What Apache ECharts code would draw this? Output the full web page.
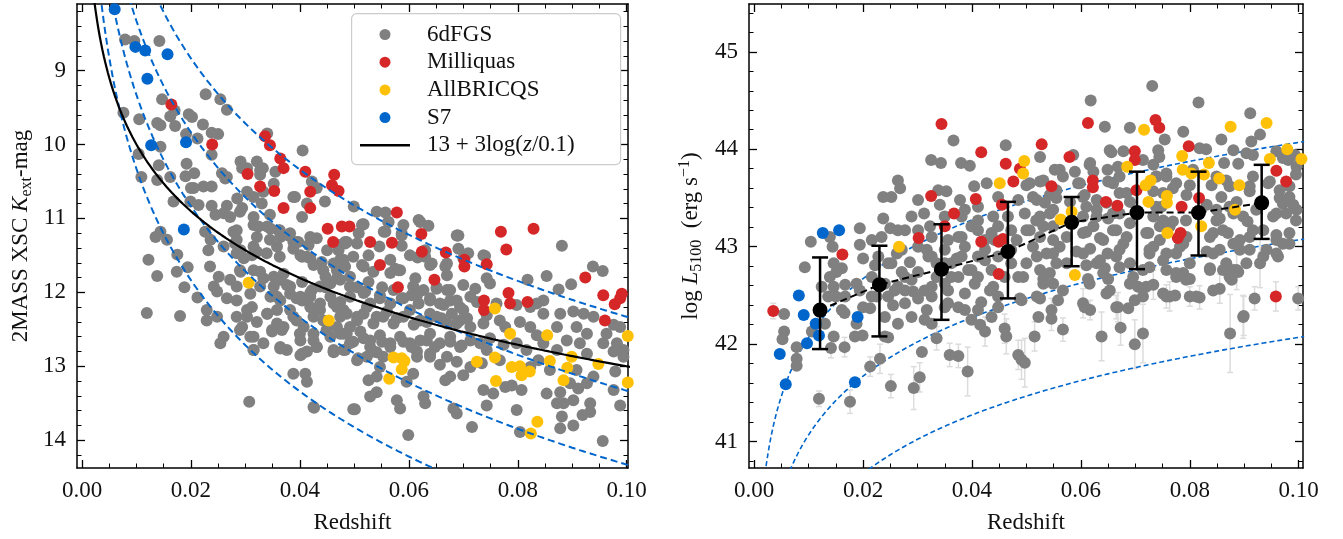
<!DOCTYPE html>
<html>
<head>
<meta charset="utf-8">
<script src="https://cdn.jsdelivr.net/npm/echarts@6/dist/echarts.min.js"></script>
<style>
  html, body { margin: 0; padding: 0; background: #fff; }
  #chart { width: 1343px; height: 539px; }
</style>
</head>
<body>
<div id="chart"></div>
<script>
// tick labels
const zTicks = [0, 0.02, 0.04, 0.06, 0.08, 0.10];
const kTicks = [9, 10, 11, 12, 13, 14];
const lTicks = [41, 42, 43, 44, 45];

// left panel: redshift vs 2MASS K mag
const grayK = [
  [0.0079,8.58],[0.0096,8.60],[0.0142,8.60],[0.0147,9.39],[0.0076,9.57],[0.0105,9.66],[0.0138,9.71],[0.0144,9.74],
  [0.0162,9.62],[0.0170,9.54],[0.0196,9.59],[0.0202,9.63],[0.0222,9.73],[0.0227,9.32],[0.0254,9.39],[0.0266,9.53],
  [0.0171,9.75],[0.0238,9.84],[0.0250,9.86],[0.0191,9.86],[0.0212,9.92],[0.0144,10.03],[0.0104,10.13],[0.0141,10.28],
  [0.0192,10.26],[0.0206,10.39],[0.0238,10.14],[0.0291,10.23],[0.0303,10.32],[0.0321,10.23],[0.0327,10.35],[0.0109,10.44],
  [0.0162,10.44],[0.0190,10.43],[0.0266,10.44],
  [0.0340,9.85],[0.0405,10.08],[0.0257,10.39],[0.0294,10.32],[0.0332,10.32],[0.0327,10.41],[0.0355,10.37],[0.0223,10.57],
  [0.0238,10.57],[0.0205,10.59],[0.0263,10.46],[0.0330,10.80],[0.0285,10.73],[0.0315,10.71],[0.0391,10.71],[0.0422,10.50],
  [0.0431,10.59],[0.0446,10.77],[0.0214,10.82],[0.0238,10.83],[0.0266,10.83],[0.0294,10.86],[0.0345,10.95],[0.0260,10.93],
  [0.0272,10.98],[0.0245,10.95],[0.0499,10.84],[0.0517,11.08],[0.0541,10.91],[0.0562,11.05],[0.0590,11.09],[0.0621,11.05],
  [0.0636,11.10],[0.0554,11.18],[0.0587,11.23],[0.0688,11.23],[0.0737,11.50],[0.0226,11.18],[0.0236,11.29],[0.0278,11.18],
  [0.0284,11.29],[0.0315,11.09],[0.0321,11.25],[0.0340,11.11],[0.0361,11.16],[0.0382,11.20],[0.0394,11.32],[0.0358,11.38],
  [0.0321,11.45],[0.0291,11.43],[0.0260,11.38],[0.0345,11.29],[0.0401,11.50],[0.0431,11.27],[0.0450,11.43],[0.0471,11.36],
  [0.0486,11.32],[0.0505,11.34],[0.0546,11.38],[0.0526,11.50],
  [0.0303,10.64],[0.0333,10.64],[0.0352,10.53],[0.0388,10.71],[0.0413,10.80],[0.0364,11.25],[0.0388,11.32],[0.0416,11.36],
  [0.0413,11.52],[0.0232,11.43],[0.0312,11.50],
  [0.0138,10.48],[0.0168,10.77],[0.0199,10.77],[0.0200,10.59],[0.0144,11.18],[0.0135,11.25],[0.0156,11.29],[0.0122,11.56],
  [0.0138,11.78],[0.0119,12.28],[0.0180,12.32],[0.0175,11.49],[0.0194,11.66],[0.0188,11.93],[0.0212,12.07],[0.0284,11.47],
  [0.0297,11.54],[0.0425,11.63],[0.0443,11.70],[0.0462,11.61],[0.0480,11.56],[0.0498,11.52],[0.0492,11.79],[0.0474,11.83],
  [0.0456,11.88],[0.0437,11.92],[0.0419,12.01],[0.0401,12.06],[0.0382,11.92],[0.0364,11.83],[0.0352,11.92],[0.0333,11.81],
  [0.0315,11.70],[0.0291,11.72],[0.0272,11.83],[0.0251,11.79],[0.0235,11.65],[0.0242,11.92],[0.0229,12.24],[0.0248,11.99],
  [0.0266,12.08],[0.0284,11.92],[0.0327,11.92],[0.0346,12.06],[0.0364,12.11],[0.0394,12.08],[0.0419,12.20],[0.0437,12.24],
  [0.0468,12.20],[0.0486,12.29],[0.0505,12.33],[0.0492,12.47],[0.0474,12.56],[0.0449,12.51],[0.0425,12.33],[0.0407,12.47],
  [0.0388,12.33],[0.0382,12.24],[0.0358,12.42],[0.0340,12.29],[0.0321,12.40],[0.0303,12.33],[0.0294,12.47],[0.0312,12.20],
  [0.0284,12.33],[0.0248,12.33],[0.0229,12.38],[0.0260,12.60],[0.0254,12.69],[0.0315,12.60],[0.0333,12.69],[0.0349,12.53],
  [0.0367,12.51],[0.0364,12.76],[0.0376,12.78],[0.0401,12.65],[0.0413,12.80],[0.0431,12.74],[0.0401,12.85],[0.0425,12.56],
  [0.0462,12.80],[0.0480,12.78],[0.0505,12.92],[0.0498,12.67],[0.0315,12.78],[0.0388,13.10],[0.0410,13.10],[0.0413,13.21],
  [0.0307,13.48],[0.0426,13.56],[0.0498,13.58],[0.0174,11.72],
  [0.0468,11.70],[0.0483,11.65],[0.0517,11.65],[0.0535,11.72],[0.0566,11.74],[0.0584,11.70],[0.0608,11.92],[0.0612,11.81],
  [0.0651,11.95],[0.0670,11.97],[0.0700,11.90],[0.0722,11.95],[0.0492,11.92],[0.0517,12.01],[0.0547,12.04],[0.0572,11.97],
  [0.0590,12.08],[0.0615,12.04],[0.0639,12.08],[0.0657,12.15],[0.0676,12.11],[0.0694,12.20],[0.0713,12.06],[0.0725,12.13],
  [0.0761,12.15],[0.0798,12.17],[0.0823,12.20],[0.0847,12.29],[0.0878,12.29],[0.0902,12.26],[0.0921,12.29],[0.0939,12.33],
  [0.0976,12.44],[0.0988,12.47],[0.0462,12.15],[0.0480,12.24],[0.0523,12.20],[0.0541,12.33],[0.0560,12.26],[0.0578,12.35],
  [0.0602,12.24],[0.0621,12.38],[0.0639,12.29],[0.0660,12.35],[0.0679,12.29],[0.0688,12.42],[0.0707,12.35],[0.0713,12.47],
  [0.0737,12.42],[0.0743,12.31],[0.0767,12.38],[0.0777,12.47],[0.0804,12.40],[0.0823,12.47],[0.0835,12.58],[0.0872,12.47],
  [0.0890,12.65],[0.0908,12.47],[0.0927,12.56],[0.0963,12.56],[0.0982,12.69],[0.0994,12.78],[0.0468,12.47],[0.0486,12.56],
  [0.0511,12.53],[0.0529,12.65],[0.0547,12.58],[0.0566,12.69],[0.0584,12.60],[0.0602,12.69],[0.0621,12.65],[0.0639,12.56],
  [0.0657,12.69],[0.0676,12.60],[0.0694,12.74],[0.0713,12.65],[0.0731,12.69],[0.0749,12.62],[0.0743,12.78],[0.0774,12.71],
  [0.0798,12.69],[0.0816,12.78],[0.0847,12.69],[0.0872,12.78],[0.0914,12.69],[0.0927,12.83],[0.0957,12.69],[0.0976,12.80],
  [0.0462,12.78],[0.0507,12.89],[0.0535,12.80],[0.0553,12.87],[0.0615,12.80],[0.0639,12.87],[0.0657,12.98],[0.0688,12.94],
  [0.0713,13.01],[0.0734,12.96],[0.0767,12.92],[0.0823,13.01],[0.0838,12.92],[0.0859,13.05],[0.0908,13.05],[0.0939,13.14],
  [0.0979,13.07],[0.0994,12.87],[0.0526,13.19],[0.0541,13.14],[0.0547,13.01],[0.0596,13.21],[0.0608,13.10],[0.0667,13.19],
  [0.0676,13.14],[0.0700,13.12],[0.0737,13.32],[0.0755,13.37],[0.0777,13.28],[0.0789,13.26],[0.0807,13.32],[0.0853,13.37],
  [0.0878,13.35],[0.0896,13.23],[0.0911,13.30],[0.0927,13.23],[0.0976,13.32],[0.0988,13.53],[0.0529,13.41],[0.0541,13.35],
  [0.0578,13.46],[0.0584,13.57],[0.0627,13.41],[0.0630,13.50],[0.0682,13.57],[0.0688,13.64],[0.0743,13.53],[0.0798,13.59],
  [0.0872,13.50],[0.0884,13.50],[0.0902,13.46],[0.0881,13.68],[0.0902,13.80],[0.0878,13.84],[0.0933,13.50],[0.0933,13.62],
  [0.0501,13.58],[0.0599,13.93],[0.0716,13.82],[0.0804,13.89],[0.0956,14.01],[0.0425,13.55],[0.0919,13.66],
  [0.0557,10.92],[0.0563,11.05],[0.0515,11.08],[0.0483,11.32],[0.0587,11.20],[0.0587,11.37],[0.0616,11.53],[0.0630,11.43],
  [0.0642,11.61],[0.0667,11.65],[0.0689,11.23],[0.0691,11.41],[0.0740,11.51],[0.0743,11.81],[0.0749,11.88],[0.0709,11.47],
  [0.0818,11.83],[0.0853,11.78],[0.0881,11.37],[0.0898,11.89],[0.0938,11.65],[0.0956,11.71],[0.0875,11.96],[0.0847,12.11],
  [0.0835,12.15],
  [0.0290,10.91],[0.0315,10.98],[0.0404,10.98],[0.0284,11.16],[0.0324,11.11],[0.0346,11.14],[0.0363,11.16],[0.0379,11.23],
  [0.0397,11.32],[0.0419,11.25],[0.0514,11.09],[0.0483,11.34],[0.0508,11.20],[0.0557,11.18],[0.0618,11.02],[0.0691,11.23],
  [0.0602,11.50],[0.0281,11.34],[0.0315,11.38],[0.0339,11.47],[0.0363,11.52],[0.0388,11.41],[0.0404,11.52],[0.0419,11.54],
  [0.0440,11.59],[0.0471,11.43],[0.0474,11.56],[0.0514,11.63],[0.0566,11.56],[0.0575,11.68],[0.0630,11.52],[0.0639,11.63],
  [0.0670,11.61],[0.0700,11.54],[0.0290,11.70],[0.0327,11.72],[0.0352,11.79],[0.0370,11.75],[0.0376,11.90],[0.0404,11.86],
  [0.0422,11.97],[0.0447,11.79],[0.0447,11.93],[0.0468,11.81],[0.0505,11.93],[0.0526,11.86],[0.0551,11.93],[0.0581,11.70],
  [0.0609,11.93],[0.0627,11.97],[0.0651,11.93],[0.0676,11.97],[0.0670,11.77],[0.0284,12.11],[0.0309,12.02],[0.0358,12.06],
  [0.0382,12.02],[0.0404,12.11],[0.0419,12.06],[0.0437,12.15],[0.0456,12.06],[0.0474,12.13],[0.0492,12.06],[0.0520,11.99],
  [0.0529,12.15],[0.0547,12.08],[0.0566,12.15],[0.0587,12.08],[0.0605,12.04],[0.0618,12.15],[0.0639,12.11],[0.0664,12.17],
  [0.0688,12.11],[0.0700,12.24],[0.0303,12.24],[0.0340,12.29],[0.0358,12.24],[0.0394,12.38],[0.0425,12.24],[0.0443,12.38],
  [0.0474,12.33],[0.0505,12.38],[0.0517,12.29],[0.0535,12.42],[0.0553,12.33],[0.0572,12.42],[0.0590,12.33],[0.0609,12.44],
  [0.0633,12.40],[0.0651,12.33],[0.0670,12.42],[0.0694,12.38],[0.0290,12.51],[0.0309,12.60],[0.0349,12.51],[0.0370,12.47],
  [0.0400,12.56],[0.0425,12.65],[0.0456,12.60],[0.0480,12.56],[0.0492,12.69],[0.0517,12.62],[0.0529,12.74],[0.0551,12.67],
  [0.0566,12.74],[0.0590,12.67],[0.0605,12.74],[0.0633,12.65],[0.0648,12.74],[0.0676,12.67],[0.0697,12.72],[0.0315,12.78],
  [0.0364,12.74],[0.0404,12.83],[0.0431,12.74],[0.0462,12.81],[0.0483,12.78],[0.0523,12.87],[0.0541,12.81],[0.0615,12.87],
  [0.0639,12.83],[0.0670,12.87]
];
const redK = [
  [0.0164,9.46],[0.0239,10.00],[0.0304,10.40],[0.0336,9.89],[0.0345,10.01],[0.0364,10.19],[0.0370,10.32],[0.0410,10.37],
  [0.0327,10.57],[0.0353,10.63],[0.0419,10.64],[0.0370,10.86],[0.0419,10.86],[0.0463,10.41],[0.0459,10.55],[0.0471,10.63],
  [0.0578,10.92],[0.0451,11.14],[0.0477,11.11],[0.0491,11.11],[0.0461,11.32],[0.0529,11.32],[0.0569,11.33],[0.0623,11.21],
  [0.0624,11.45],[0.0668,11.46],[0.0702,11.56],[0.0547,11.63],[0.0580,11.93],[0.0647,11.83],[0.0702,11.65],[0.0743,11.62],
  [0.0769,11.18],[0.0779,11.42],[0.0829,11.14],[0.0783,12.01],[0.0786,12.15],[0.0738,12.11],[0.0738,12.24],[0.0818,12.13],
  [0.0924,11.80],[0.0957,12.04],[0.0960,12.38],[0.0978,12.16],[0.0988,12.08],[0.0991,12.02]
];
const yellowK = [
  [0.0306,11.87],[0.0453,12.38],[0.0758,12.22],[0.0786,12.56],[0.0854,12.58],[0.0572,12.88],[0.0587,12.89],[0.0592,12.93],
  [0.0587,13.04],[0.0564,13.17],[0.0725,12.94],[0.0758,12.88],[0.0760,13.20],[0.0789,13.01],[0.0804,13.00],[0.0807,13.12],
  [0.0822,13.07],[0.0859,12.93],[0.0899,12.87],[0.0891,13.02],[0.0884,13.19],[0.0948,12.97],[0.1002,12.59],[0.1002,13.22],
  [0.0836,13.75],[0.0824,13.91]
];
const blueK = [
  [0.0060,8.17],[0.0098,8.68],[0.0116,8.73],[0.0157,8.78],[0.0120,9.11],[0.0127,10.01],[0.0191,9.97],[0.0187,11.15]
];
// model curves: K = c + 5 log(z/0.1); fit: 13 + 3 log(z/0.1)
const kCurveOffsets = [12.33, 13.33, 14.33, 15.33];
const fitZero = 13, fitSlope = 3;

// right panel: redshift vs log L5100
const grayL = [
  [0.0055,42.31],[0.0055,42.13],[0.0052,42.05],[0.0078,41.97],[0.0078,41.85],[0.0078,41.78],[0.0119,41.44],[0.0104,43.05],
  [0.0093,42.79],[0.0139,43.10],[0.0144,43.00],[0.0146,42.83],[0.0139,42.69],[0.0146,42.59],[0.0136,42.49],[0.0150,42.49],
  [0.0161,42.78],[0.0167,42.61],[0.0161,42.35],[0.0166,42.32],[0.0146,42.08],[0.0141,41.96],[0.0166,41.97],[0.0106,42.13],
  [0.0130,42.21],[0.0194,43.19],[0.0194,43.02],[0.0200,42.88],[0.0188,42.62],[0.0194,42.55],[0.0200,42.38],[0.0213,42.37],
  [0.0188,42.21],[0.0185,42.08],[0.0199,42.09],[0.0213,41.77],[0.0176,41.41],[0.0231,41.85],[0.0251,41.57],[0.0293,41.55],
  [0.0237,43.51],[0.0237,43.29],[0.0234,43.10],[0.0250,43.19],[0.0264,43.68],[0.0268,43.60],[0.0262,42.93],[0.0252,42.83],
  [0.0289,43.31],[0.0312,43.34],[0.0286,42.84],[0.0277,42.69],[0.0264,42.59],[0.0292,42.54],[0.0301,42.47],[0.0246,42.49],
  [0.0271,42.74],[0.0240,42.28],[0.0240,42.08],[0.0246,42.07],[0.0317,42.35],[0.0313,42.25],[0.0335,42.83],[0.0335,42.69],
  [0.0323,43.21],[0.0326,43.10],[0.0341,43.43],[0.0353,43.57],[0.0366,44.09],[0.0325,43.89],[0.0343,43.86],[0.0380,43.86],
  [0.0396,43.83],[0.0404,43.62],[0.0378,43.48],[0.0387,43.38],[0.0399,43.21],[0.0387,43.00],[0.0372,42.88],[0.0411,42.90],
  [0.0399,42.76],[0.0362,42.69],[0.0356,42.55],[0.0375,42.38],[0.0417,42.43],[0.0405,42.62],[0.0433,42.55],[0.0448,42.49],
  [0.0399,42.25],[0.0415,42.20],[0.0424,42.13],[0.0335,42.06],[0.0308,41.92],[0.0359,41.89],[0.0375,41.88],[0.0392,41.72],
  [0.0427,43.65],[0.0462,44.04],[0.0439,43.31],[0.0424,43.07],[0.0448,43.21],[0.0439,42.59],[0.0460,42.16],[0.0463,42.08],
  [0.0488,42.47],[0.0485,41.89],[0.0491,41.84],[0.0216,43.07],[0.0222,42.81],[0.0301,43.00],[0.0317,42.97],[0.0356,43.07],
  [0.0375,43.10],[0.0411,43.17],[0.0436,43.14],[0.0424,42.86],[0.0472,42.83],[0.0482,43.07],[0.0375,42.69],[0.0255,42.40],
  [0.0277,42.42],[0.0225,42.49],[0.0326,42.59],[0.0350,42.38],[0.0387,42.52],[0.0252,43.51],[0.0301,43.48],[0.0338,43.58],
  [0.0381,43.31],[0.0411,43.41],[0.0448,43.51],[0.0466,43.31],[0.0485,43.48],[0.0472,43.17],[0.0350,42.97],[0.0277,43.17],
  [0.0320,42.90],[0.0304,41.66],
  [0.0124,42.59],[0.0151,42.74],[0.0167,42.49],[0.0216,42.69],[0.0240,42.62],[0.0258,42.55],[0.0277,42.55],[0.0289,42.66],
  [0.0301,42.74],[0.0313,42.55],[0.0326,42.49],[0.0350,42.62],[0.0362,42.83],[0.0381,42.90],[0.0393,42.76],[0.0411,42.69],
  [0.0424,42.97],[0.0436,42.76],[0.0448,42.90],[0.0460,42.69],[0.0472,42.97],[0.0485,42.69],[0.0356,42.42],[0.0387,42.35],
  [0.0411,42.35],[0.0436,42.28],[0.0448,42.38],[0.0326,42.21],[0.0289,42.28],[0.0264,42.21],[0.0216,42.49],[0.0246,42.83],
  [0.0271,42.97],[0.0326,42.90],[0.0350,42.83],[0.0381,43.10],[0.0411,43.27],[0.0442,43.07],[0.0350,43.31],[0.0301,43.17],
  [0.0264,43.17],[0.0228,42.90],
  [0.0731,44.65],[0.0618,44.50],[0.0816,44.48],[0.0911,44.37],[0.0644,44.23],[0.0690,44.22],[0.0754,44.10],[0.0788,44.18],
  [0.0858,44.10],[0.0913,44.08],[0.0929,44.15],[0.0656,43.97],[0.0678,43.98],[0.0742,43.99],[0.0818,44.01],[0.0830,44.00],
  [0.0880,43.99],[0.0916,43.94],[0.0959,43.98],[0.0993,43.94],[0.0552,43.79],[0.0589,43.77],[0.0617,43.86],[0.0649,43.79],
  [0.0714,43.89],[0.0733,43.84],[0.0757,43.75],[0.0806,43.79],[0.0889,43.85],[0.0981,43.89],[0.0995,43.74],[0.0983,43.62],
  [0.0500,43.63],[0.0525,43.67],[0.0567,43.72],[0.0598,43.65],[0.0650,43.67],[0.0671,43.72],[0.0739,43.72],[0.0769,43.60],
  [0.0800,43.63],[0.0840,43.63],[0.0867,43.68],[0.0916,43.72],[0.0944,43.65],[0.0512,43.51],[0.0534,43.45],[0.0555,43.50],
  [0.0580,43.46],[0.0607,43.53],[0.0629,43.48],[0.0671,43.55],[0.0690,43.46],[0.0733,43.57],[0.0748,43.41],[0.0794,43.53],
  [0.0831,43.43],[0.0858,43.51],[0.0886,43.46],[0.0910,43.57],[0.0965,43.50],[0.0990,43.43],[0.0497,43.34],[0.0518,43.27],
  [0.0543,43.34],[0.0604,43.31],[0.0629,43.38],[0.0650,43.29],[0.0671,43.34],[0.0733,43.31],[0.0769,43.26],[0.0855,43.29],
  [0.0880,43.34],[0.0906,43.26],[0.0953,43.31],[0.0977,43.34],[0.0995,43.27],[0.0500,43.17],[0.0525,43.10],[0.0549,43.21],
  [0.0574,43.10],[0.0610,43.15],[0.0635,43.09],[0.0659,43.17],[0.0684,43.10],[0.0724,43.14],[0.0745,43.21],[0.0745,43.07],
  [0.0794,43.10],[0.0843,43.14],[0.0870,43.14],[0.0892,43.07],[0.0916,43.17],[0.0959,43.12],[0.0983,43.03],[0.0512,43.00],
  [0.0537,42.93],[0.0561,43.00],[0.0592,42.95],[0.0617,42.98],[0.0649,42.93],[0.0671,42.97],[0.0726,42.97],[0.0757,42.93],
  [0.0782,43.00],[0.0831,42.95],[0.0855,42.97],[0.0910,42.97],[0.0941,42.97],[0.0971,43.03],[0.0500,42.83],[0.0525,42.76],
  [0.0555,42.83],[0.0610,42.81],[0.0635,42.86],[0.0671,42.79],[0.0696,42.69],[0.0726,42.79],[0.0757,42.76],[0.0775,42.69],
  [0.0837,42.78],[0.0861,42.76],[0.0886,42.76],[0.0904,42.83],[0.0929,42.83],[0.0962,42.90],[0.0494,42.69],[0.0531,42.67],
  [0.0549,42.62],[0.0613,42.67],[0.0644,42.78],[0.0650,42.67],[0.0705,42.59],[0.0733,42.61],[0.0788,42.73],[0.0800,42.67],
  [0.0855,42.57],[0.0877,42.66],[0.0889,42.74],[0.0491,42.45],[0.0525,42.47],[0.0558,42.45],[0.0607,42.38],[0.0617,42.35],
  [0.0653,42.55],[0.0668,42.38],[0.0687,42.37],[0.0699,42.45],[0.0757,42.49],[0.0773,42.50],[0.0800,42.49],[0.0818,42.48],
  [0.0919,42.47],[0.0899,42.29],[0.0999,42.47],[0.0546,42.35],[0.0546,42.26],[0.0522,42.28],[0.0567,42.15],[0.0638,42.08],
  [0.0673,42.17],[0.0699,42.00],[0.0714,42.11],[0.0874,42.11],[0.0515,42.08],[0.0497,41.81],
  [0.0525,43.92],[0.0561,43.79],[0.0586,43.94],[0.0616,43.84],[0.0653,43.99],[0.0668,43.82],[0.0744,43.92],[0.0757,43.72],
  [0.0863,43.86],[0.0904,43.96],[0.0971,43.91],[0.0996,43.82],[0.0506,43.65],[0.0531,43.68],[0.0555,43.58],[0.0595,43.65],
  [0.0623,43.77],[0.0604,43.51],[0.0659,43.65],[0.0684,43.55],[0.0738,43.72],[0.0751,43.55],[0.0775,43.65],[0.0849,43.72],
  [0.0873,43.62],[0.0910,43.62],[0.0947,43.67],[0.0965,43.58],[0.0983,43.51],[0.0519,43.48],[0.0543,43.53],[0.0525,43.31],
  [0.0549,43.38],[0.0610,43.41],[0.0629,43.31],[0.0647,43.45],[0.0659,43.34],[0.0690,43.24],[0.0738,43.41],[0.0751,43.27],
  [0.0793,43.27],[0.0849,43.38],[0.0849,43.27],[0.0873,43.41],[0.0898,43.31],[0.0922,43.38],[0.0959,43.34],[0.0971,43.44],
  [0.0996,43.38],[0.0506,43.17],[0.0531,43.21],[0.0549,43.07],[0.0604,43.14],[0.0623,43.21],[0.0641,43.07],[0.0665,43.17],
  [0.0678,43.03],[0.0720,43.14],[0.0733,43.00],[0.0763,43.21],[0.0788,43.03],[0.0837,43.10],[0.0861,43.17],[0.0880,43.03],
  [0.0910,43.10],[0.0935,43.17],[0.0959,43.07],[0.0983,43.14],[0.0519,42.90],[0.0549,42.93],[0.0574,42.83],[0.0604,42.93],
  [0.0629,42.83],[0.0665,42.90],[0.0690,42.83],[0.0726,42.93],[0.0751,42.86],[0.0775,42.93],[0.0800,42.83],[0.0843,42.93],
  [0.0867,42.83],[0.0892,42.97],[0.0935,42.90],[0.0959,42.93],[0.0543,42.73],[0.0641,42.73],[0.0714,42.76],[0.0775,42.73],
  [0.0837,42.76],[0.0880,42.76],[0.0531,42.62],[0.0567,42.55],[0.0616,42.62],[0.0647,42.52],[0.0690,42.62],[0.0720,42.59],
  [0.0751,42.52],[0.0793,42.66],[0.0812,42.49],[0.0843,42.55],[0.0873,42.69],[0.0519,42.49],[0.0604,42.42],[0.0665,42.38],
  [0.0714,42.49],[0.0763,42.49],[0.0898,42.28]
];
const redL = [
  [0.0035,42.34],[0.0162,42.92],[0.0302,43.09],[0.0325,43.52],[0.0344,44.26],[0.0417,43.97],[0.0367,43.34],[0.0350,43.21],
  [0.0407,43.49],[0.0417,43.05],[0.0462,43.85],[0.0476,43.67],[0.0488,43.80],[0.0455,43.43],[0.0449,43.05],[0.0457,43.08],
  [0.0449,42.72],[0.0528,44.05],[0.0579,43.92],[0.0546,43.62],[0.0613,44.27],[0.0622,43.68],[0.0622,43.61],[0.0646,43.46],
  [0.0667,43.42],[0.0699,43.98],[0.0699,43.89],[0.0702,43.58],[0.0737,44.30],[0.0744,44.22],[0.0798,44.03],[0.0785,43.41],
  [0.0817,43.50],[0.0778,43.09],[0.0783,43.14],[0.0959,43.78],[0.0977,43.67],[0.0958,42.49]
];
const yellowL = [
  [0.0266,43.00],[0.0451,43.65],[0.0496,43.88],[0.0494,43.75],[0.0716,44.20],[0.0685,43.82],[0.0563,43.28],[0.0583,43.36],
  [0.0589,42.71],[0.0728,43.68],[0.0719,43.63],[0.0724,43.46],[0.0758,43.52],[0.0758,43.45],[0.0759,43.14],[0.0786,43.93],
  [0.0787,43.79],[0.0803,43.75],[0.0826,43.74],[0.0835,43.86],[0.0821,43.21],[0.0854,43.70],[0.0875,44.23],[0.0891,43.63],
  [0.0883,43.38],[0.0941,44.27],[0.0947,43.90],[0.0979,44.00],[0.1005,43.90]
];
const blueL = [
  [0.0126,43.14],[0.0156,43.17],[0.0082,42.50],[0.0091,42.30],[0.0113,42.21],[0.0119,42.09],[0.0097,42.01],[0.0047,41.90],
  [0.0058,41.59],[0.0190,42.28],[0.0185,41.61]
];
// individual measurement errors (z, logL, half-length)
const errL = [
  [0.0078,41.85,0.10],[0.0119,41.44,0.08],[0.0176,41.41,0.12],[0.0213,41.77,0.10],[0.0231,41.85,0.15],[0.0251,41.57,0.12],
  [0.0293,41.55,0.22],[0.0304,41.66,0.15],[0.0359,41.89,0.12],[0.0375,41.88,0.12],[0.0392,41.72,0.25],[0.0460,42.16,0.15],
  [0.0485,41.89,0.15],[0.0491,41.84,0.20],[0.0497,41.81,0.25],[0.0515,42.08,0.15],[0.0546,42.26,0.12],[0.0567,42.15,0.12],
  [0.0638,42.08,0.25],[0.0673,42.17,0.18],[0.0699,42.00,0.25],[0.0714,42.11,0.30],[0.0757,42.49,0.12],[0.0800,42.49,0.10],
  [0.0818,42.48,0.12],[0.0874,42.11,0.40],[0.0899,42.29,0.20],[0.0919,42.47,0.12],[0.0855,42.57,0.15],[0.0999,42.47,0.12],
  [0.0546,42.35,0.12],[0.0617,42.35,0.10],[0.0166,41.97,0.10],[0.0141,41.96,0.10],[0.0335,42.06,0.12],[0.0424,42.13,0.15],
  [0.0463,42.08,0.18],[0.0733,42.61,0.15],[0.0886,42.76,0.20],[0.0929,42.83,0.25],[0.0668,42.38,0.15],[0.0958,42.49,0.15],
  [0.0035,42.34,0.08],[0.0604,42.42,0.15],[0.0665,42.38,0.12],[0.0763,42.49,0.15],[0.0898,42.28,0.22]
];
// binned means
const binZ  = [0.0121, 0.0230, 0.0344, 0.0466, 0.0583, 0.0703, 0.0816, 0.0932];
const binL  = [42.35, 42.61, 42.77, 42.95, 43.25, 43.35, 43.35, 43.45];
const binLo = [41.95, 42.08, 42.25, 42.47, 42.80, 42.77, 42.91, 43.08];
const binHi = [42.89, 43.01, 43.23, 43.46, 43.51, 43.77, 43.77, 43.84];
// flux limits: logL = c + 2 log(z/0.1)
const lCurveOffsets = [44.07, 43.07, 42.07];

const FONT = "'Liberation Serif', 'DejaVu Serif', serif";
const FS = 23;
const BLUE = '#0066cc', RED = '#d62728', YELLOW = '#ffc107', GRAY = '#808080';

const zGrid = [];
for (let i = 1; i <= 404; i++) zGrid.push(i * 0.00025);
const curve = (c, s) => zGrid.map(z => [z, c + s * Math.log10(z / 0.1)]);

function minorList(lo, hi, step, majors) {
  const out = [];
  for (let v = lo; v <= hi + 1e-9; v += step) {
    const r = Math.round(v / step) * step;
    if (!majors.some(m => Math.abs(m - r) < 1e-9)) out.push(+r.toFixed(4));
  }
  return out;
}

function axes(dim, grid, min, max, majors, minors, o) {
  const sides = dim === 'x' ? ['bottom', 'top'] : ['left', 'right'];
  const list = [];
  sides.forEach((p, i) => {
    list.push({
      type: 'value', gridIndex: grid, position: p, min: min, max: max, inverse: !!o.inverse,
      splitLine: { show: false },
      axisLine: { show: true, onZero: false, lineStyle: { color: '#000', width: 1.5 } },
      axisTick: { show: true, inside: true, length: 8, lineStyle: { color: '#000', width: 1.3 }, customValues: majors },
      axisLabel: i === 0 ? { show: true, customValues: majors, formatter: o.fmt, margin: o.margin,
        color: '#111', fontFamily: FONT, fontSize: FS } : { show: false },
      name: i === 0 ? o.name : '',
      nameLocation: 'middle', nameGap: o.gap, nameRotate: dim === 'y' ? 90 : 0,
      nameTextStyle: { color: '#111', fontFamily: FONT, fontSize: FS, lineHeight: 28, rich: o.rich || {} }
    });
    list.push({
      type: 'value', gridIndex: grid, position: p, min: min, max: max, inverse: !!o.inverse,
      splitLine: { show: false }, axisLine: { show: false, onZero: false }, axisLabel: { show: false },
      axisTick: { show: true, inside: true, length: 4.5, lineStyle: { color: '#000', width: 1 }, customValues: minors }
    });
  });
  return list;
}

const rich = {
  i: { fontStyle: 'italic', fontFamily: FONT, fontSize: FS, color: '#111', lineHeight: 28 },
  sub: { fontFamily: FONT, fontSize: 16, color: '#111', verticalAlign: 'bottom', lineHeight: 28 },
  sup: { fontFamily: FONT, fontSize: 16, color: '#111', verticalAlign: 'top', lineHeight: 28 }
};

const zMinor = minorList(0, 0.1, 0.005, zTicks);
const kMinor = minorList(8.2, 14.2, 0.2, kTicks);
const lMinor = minorList(40.8, 45.4, 0.2, lTicks);
const zFmt = v => v.toFixed(2);
const iFmt = v => String(Math.round(v));

const xAxis = [].concat(
  axes('x', 0, -0.00092, 0.10024, zTicks, zMinor, { fmt: zFmt, margin: 11, name: 'Redshift', gap: 41 }),
  axes('x', 1, -0.00095, 0.10079, zTicks, zMinor, { fmt: zFmt, margin: 11, name: 'Redshift', gap: 41 })
);
const yAxis = [].concat(
  axes('y', 0, 8.10, 14.376, kTicks, kMinor, { fmt: iFmt, margin: 11, inverse: true, gap: 42,
    name: '2MASS XSC {i|K}{sub|ext}-mag', rich: rich }),
  axes('y', 1, 40.73, 45.49, lTicks, lMinor, { fmt: iFmt, margin: 11, gap: 44,
    name: 'log {i|L}{sub|5100}  (erg s{sup|−1})', rich: rich })
);

function errBars(color, width, cap) {
  return function (params, api) {
    const a = api.coord([api.value(0), api.value(1)]);
    const b = api.coord([api.value(0), api.value(2)]);
    const st = { stroke: color, lineWidth: width };
    return { type: 'group', children: [
      { type: 'line', shape: { x1: a[0], y1: a[1], x2: b[0], y2: b[1] }, style: st },
      { type: 'line', shape: { x1: a[0] - cap, y1: a[1], x2: a[0] + cap, y2: a[1] }, style: st },
      { type: 'line', shape: { x1: b[0] - cap, y1: b[1], x2: b[0] + cap, y2: b[1] }, style: st }
    ] };
  };
}

const dot = (name, data, color, xi, yi, z) => ({
  name: name, type: 'scatter', xAxisIndex: xi, yAxisIndex: yi, data: data, symbolSize: 12,
  itemStyle: { color: color, opacity: 1 }, z: z, silent: true
});

const series = [];
// left panel (axes 0)
series.push(dot('6dFGS', grayK, GRAY, 0, 0, 2));
series.push(dot('Milliquas', redK, RED, 0, 0, 3));
series.push(dot('AllBRICQS', yellowK, YELLOW, 0, 0, 3));
series.push(dot('S7', blueK, BLUE, 0, 0, 3));
kCurveOffsets.forEach(c => series.push({
  type: 'line', xAxisIndex: 0, yAxisIndex: 0, data: curve(c, 5), showSymbol: false, symbol: 'none',
  lineStyle: { color: BLUE, width: 2, type: [7, 4] }, z: 4, silent: true, clip: true
}));
series.push({
  name: 'fit', type: 'line', xAxisIndex: 0, yAxisIndex: 0, data: curve(fitZero, fitSlope), symbol: 'none',
  lineStyle: { color: '#000', width: 2.2 }, itemStyle: { color: '#000' }, z: 5, silent: true, clip: true
});
// right panel (axes 4)
lCurveOffsets.forEach(c => series.push({
  type: 'line', xAxisIndex: 4, yAxisIndex: 4, data: curve(c, 2), symbol: 'none',
  lineStyle: { color: BLUE, width: 1.6, type: [5, 3] }, z: 1, silent: true, clip: true
}));
series.push({
  type: 'custom', xAxisIndex: 4, yAxisIndex: 4, renderItem: errBars('#dcdcdc', 1.5, 3),
  data: errL.map(d => [d[0], d[1] - d[2], d[1] + d[2]]), encode: { x: 0, y: [1, 2] }, z: 1, silent: true
});
series.push(dot('6dFGS r', grayL, GRAY, 4, 4, 2));
series.push(dot('Milliquas r', redL, RED, 4, 4, 3));
series.push(dot('AllBRICQS r', yellowL, YELLOW, 4, 4, 3));
series.push(dot('S7 r', blueL, BLUE, 4, 4, 3));
series.push({
  type: 'custom', xAxisIndex: 4, yAxisIndex: 4, renderItem: errBars('#000', 2.5, 8),
  data: binZ.map((z, i) => [z, binLo[i], binHi[i]]), encode: { x: 0, y: [1, 2] }, z: 6, silent: true
});
series.push({
  type: 'line', xAxisIndex: 4, yAxisIndex: 4, data: binZ.map((z, i) => [z, binL[i]]),
  symbol: 'circle', symbolSize: 15, itemStyle: { color: '#000' },
  lineStyle: { color: '#000', width: 2, type: [7, 4] }, z: 7, silent: true
});

const chart = echarts.init(document.getElementById('chart'), null, { renderer: 'canvas' });
chart.setOption({
  animation: false,
  backgroundColor: '#fff',
  grid: [
    { left: 77, right: 715, top: 4, bottom: 71, outerBoundsMode: 'none' },
    { left: 749, right: 40, top: 4, bottom: 71, outerBoundsMode: 'none' }
  ],
  xAxis: xAxis,
  yAxis: yAxis,
  // legend frame
  graphic: [{
    type: 'rect', left: 351, top: 13, z: 9, silent: true,
    shape: { width: 269, height: 151, r: 5 },
    style: { fill: 'rgba(255,255,255,0.85)', stroke: '#cccccc', lineWidth: 1.2 }
  }],
  legend: {
    orient: 'vertical', left: 351, top: 13, selectedMode: false, z: 10,
    data: [
      { name: '6dFGS', icon: 'circle' }, { name: 'Milliquas', icon: 'circle' },
      { name: 'AllBRICQS', icon: 'circle' }, { name: 'S7', icon: 'circle' },
      { name: 'fit', icon: 'path://M0,0L50,0L50,2.4L0,2.4Z' }
    ],
    formatter: n => n === 'fit' ? '13 + 3log({i|z}/0.1)' : n,
    itemWidth: 50, itemHeight: 11, itemGap: 4.7, padding: [10, 10, 10, 9],
    textStyle: { fontFamily: FONT, fontSize: FS, color: '#111', lineHeight: 23, padding: [0, 0, 0, 12],
      rich: { i: { fontStyle: 'italic', fontFamily: FONT, fontSize: FS, color: '#111' } } }
  },
  series: series
});
</script>
</body>
</html>
